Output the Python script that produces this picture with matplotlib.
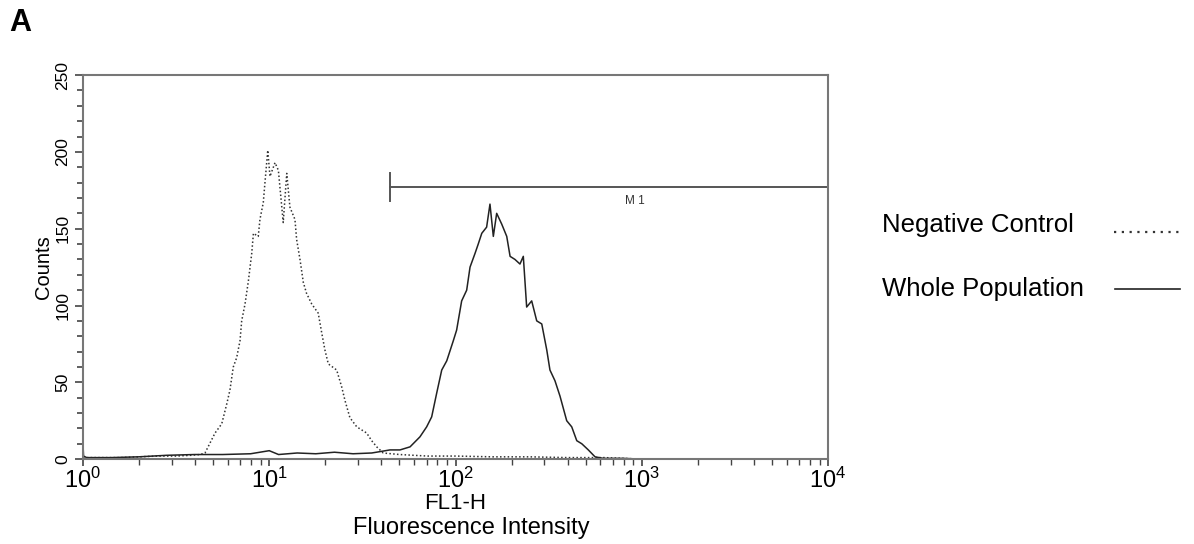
import numpy as np
import matplotlib
matplotlib.use("Agg")
import matplotlib.pyplot as plt
from matplotlib.lines import Line2D
from matplotlib.ticker import LogLocator, MultipleLocator, NullFormatter

plt.rcParams['font.family'] = ['Liberation Sans', 'DejaVu Sans']
plt.rcParams['mathtext.fontset'] = 'custom'
plt.rcParams['mathtext.rm'] = 'Liberation Sans'
plt.rcParams['mathtext.default'] = 'regular'

# Negative control histogram (log10 of FL1-H, counts)
neg_log = [0.00, 0.10, 0.20, 0.30, 0.40, 0.50, 0.58, 0.63, 0.655, 0.709, 0.745, 0.772,
           0.789, 0.807, 0.825, 0.843, 0.852, 0.870, 0.888, 0.906, 0.915, 0.941,
           0.950, 0.968, 0.977, 0.992, 1.004, 1.031, 1.049, 1.075, 1.094, 1.111,
           1.138, 1.147, 1.165, 1.183, 1.200, 1.228, 1.263, 1.282, 1.299, 1.317,
           1.362, 1.389, 1.407, 1.433, 1.470, 1.523, 1.550, 1.577, 1.612, 1.70,
           1.85, 2.00, 2.20, 2.40, 2.60, 2.80, 3.00]
neg_counts = [1, 1, 1, 1.5, 2, 2, 2.5, 3, 4, 17, 23, 36,
              45, 60, 66, 77, 90, 101, 116, 134, 147, 145,
              156, 167, 180, 201, 184, 193, 188, 154, 186, 164,
              156, 143, 130, 115, 108, 101, 95, 82, 71, 62,
              58, 47, 38, 27, 21, 17, 12, 8, 4, 3,
              2, 2, 1.5, 1.5, 1, 1, 0]

# Whole population histogram
pop_log = [0.00, 0.003, 0.02, 0.15, 0.30, 0.45, 0.60, 0.75, 0.90, 1.00, 1.05, 1.15,
           1.25, 1.35, 1.45, 1.55, 1.60, 1.648, 1.702, 1.756, 1.809, 1.845, 1.872,
           1.899, 1.926, 1.953, 1.988, 2.006, 2.033, 2.060, 2.078, 2.105, 2.122,
           2.141, 2.167, 2.185, 2.203, 2.221, 2.248, 2.275, 2.293, 2.319, 2.346,
           2.364, 2.382, 2.409, 2.436, 2.463, 2.490, 2.507, 2.534, 2.561, 2.597,
           2.624, 2.651, 2.678, 2.713, 2.749, 2.794, 2.90, 3.00]
pop_counts = [10, 2, 1, 1, 1.5, 2.5, 3, 3, 3.5, 5.5, 3, 4,
              3.5, 4.5, 3.5, 4, 5, 6, 6, 8, 14.5, 21, 27.5,
              43, 58, 64, 77, 84, 103, 110, 125, 134, 140,
              147, 151, 166, 145, 160, 153, 145, 132, 130, 127,
              132, 99, 103, 90, 88, 71, 58, 51, 41, 25,
              21, 12, 10, 6, 1.5, 0.5, 0.5, 0]

# M1 gate
m1_range = [1.648, 4.0]
m1_level = 177

legend_labels = ["Negative Control", "Whole Population"]

fig = plt.figure(figsize=(11.94, 5.44), dpi=100)
ax = fig.add_axes([0.0695, 0.156, 0.624, 0.706])

ax.plot(10 ** np.array(neg_log), neg_counts, color='#333333', linestyle=(0, (1, 1.5)), lw=1.1)
ax.plot(10 ** np.array(pop_log), pop_counts, color='#222222', linestyle='-', lw=1.1)

# gate marker
ax.plot(10 ** np.array(m1_range), [m1_level, m1_level], color='#555555', lw=1.4, clip_on=False)
ax.plot([10 ** m1_range[0]] * 2, [m1_level - 9, m1_level + 9], color='#555555', lw=1.4)
ax.text(10 ** 2.965, m1_level - 5, "M 1", fontsize=8.5, ha='center', va='top', color='#333333')

ax.set_xscale('log')
ax.set_xlim(1, 1e4)
ax.set_ylim(0, 250)
ax.xaxis.set_minor_locator(LogLocator(base=10, subs=np.arange(2, 10), numticks=20))
ax.xaxis.set_minor_formatter(NullFormatter())
ax.set_xticks([1, 10, 100, 1000, 10000])
ax.set_xticklabels([r'$10^{0}$', r'$10^{1}$', r'$10^{2}$', r'$10^{3}$', r'$10^{4}$'], fontsize=17)
ax.yaxis.set_major_locator(MultipleLocator(50))
ax.yaxis.set_minor_locator(MultipleLocator(10))
ax.tick_params(axis='y', labelsize=12.5, rotation=90, length=6, width=1.2, color='#444444', pad=3)
ax.tick_params(axis='y', which='minor', length=4, width=1.2, color='#444444')
ax.tick_params(axis='x', length=5, width=1.2, color='#444444', pad=1)
ax.tick_params(axis='x', which='minor', length=4, width=1.0, color='#444444')
for lbl in ax.get_yticklabels():
    lbl.set_va('center')
for sp in ax.spines.values():
    sp.set_color('#777777')
    sp.set_linewidth(1.5)

ax.set_ylabel("Counts", fontsize=14.5, labelpad=2)
ax.set_xlabel("FL1-H", fontsize=16, labelpad=0)
fig.text(0.395, 0.029, "Fluorescence Intensity", fontsize=17, ha='center', va='center')
fig.text(0.008, 0.958, "A", fontsize=22, fontweight='bold', ha='left', va='center')

# legend on the right: text first, line after
fig.text(0.7387, 0.586, legend_labels[0], fontsize=18.5, ha='left', va='center')
fig.text(0.7387, 0.469, legend_labels[1], fontsize=18.5, ha='left', va='center')
fig.add_artist(Line2D([0.933, 0.988], [0.574, 0.574], transform=fig.transFigure,
                      color='#333333', linestyle=(0, (1, 2.5)), lw=1.6))
fig.add_artist(Line2D([0.934, 0.988], [0.469, 0.469], transform=fig.transFigure,
                      color='#222222', linestyle='-', lw=1.2))

fig.savefig("out.png", dpi=100)
